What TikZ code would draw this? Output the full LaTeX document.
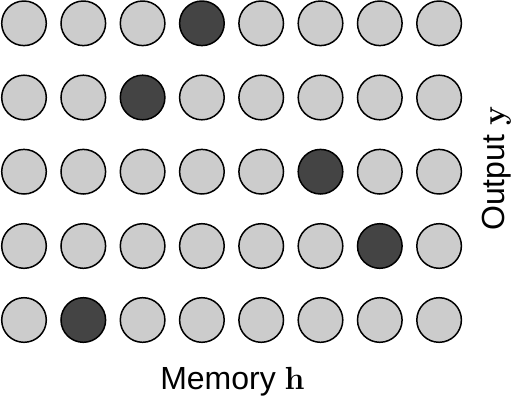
\RequirePackage{fix-cm}
\documentclass[tikz,border=0pt]{standalone}
\usepackage[no-math]{fontspec}
\setmainfont{Liberation Sans}
\begin{document}
\begin{tikzpicture}[x=1pt,y=1pt,
  cell/.style={circle, draw=black, line width=1.5pt, fill=lightcell, minimum size=44.6pt, inner sep=0pt},
  hot/.style={cell, fill=darkcell},
  lbl/.style={font=\fontsize{32}{36}\selectfont, inner sep=0pt}]
\definecolor{lightcell}{HTML}{CCCCCC}
\definecolor{darkcell}{HTML}{444444}
\useasboundingbox (0,0) rectangle (520,-400);
\def\hotlist{{4,3,6,7,2}}
\foreach \r [count=\ri from 0] in {23.3,97.5,171.7,246,320} {
  \foreach \c in {1,...,8} {
    \pgfmathtruncatemacro{\h}{\hotlist[\ri]}
    \ifnum\c=\h
      \node[hot] (c-\ri-\c) at ({24+(\c-1)*59.3},-\r) {};
    \else
      \node[cell] (c-\ri-\c) at ({24+(\c-1)*59.3},-\r) {};
    \fi
  }
}
\node[lbl, anchor=base] (mem) at (232.5,-389.5) {Memory $\mathbf{h}$};
\node[lbl, anchor=base, rotate=90] (out) at (504.5,-168.5) {Output $\mathbf{y}$};
\end{tikzpicture}
\end{document}
